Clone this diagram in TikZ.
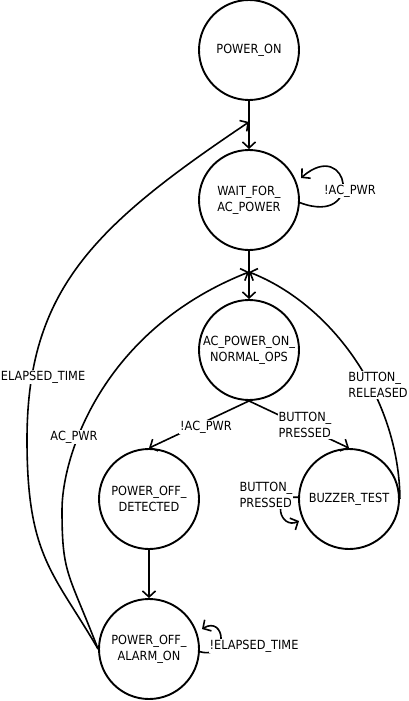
\documentclass[tikz,border=0pt]{standalone}
\usepackage{fontspec}
\setmainfont{DejaVu Sans}[FakeStretch=0.9]
\usetikzlibrary{arrows.meta}
\begin{document}
\begin{tikzpicture}[x=1pt,y=-1pt,
  font=\fontsize{12.6}{16}\selectfont,
  state/.style={circle,draw,line width=1.9pt,minimum size=100pt,inner sep=0pt,align=center},
  edge/.style={line width=1.6pt,-{Straight Barb[length=6pt,width=13pt,line width=1.6pt]}},
  lbl/.style={fill=white,inner sep=1pt,align=left}]
\useasboundingbox (0,0) rectangle (409,701);
% states
\node[state] (pon)   at (249,50)  {POWER\_ON};
\node[state] (wait)  at (249,200) {WAIT\_FOR\_\\AC\_POWER};
\node[state] (ac)    at (249,350) {AC\_POWER\_ON\_\\NORMAL\_OPS};
\node[state] (podet) at (149,499) {POWER\_OFF\_\\DETECTED};
\node[state] (buzz)  at (349,499) {BUZZER\_TEST};
\node[state] (alarm) at (149,649) {POWER\_OFF\_\\ALARM\_ON};
% arrival points on the vertical lines
\coordinate (wt) at (249,122);
\coordinate (at) at (249,272);
\coordinate (wl) at (301,178);
\coordinate (bl) at (299,521);
\coordinate (al) at (202,629);
% straight edges
\draw[edge] (pon) -- (wait);
\draw[edge] (wait) -- (ac);
\draw[edge] (ac.south) -- (podet.north);
\draw[edge] (ac.south) -- (buzz.north);
\draw[edge] (podet) -- (alarm);
% curved edges
\draw[edge] (alarm.180) .. controls (53.6,572.5) and (27,557) .. (27,440)
   .. controls (27,290) and (94,226) .. (wt);
\draw[edge] (alarm.180) .. controls (68.3,571.8) and (62,575) .. (62,510)
   .. controls (62,456) and (102,330) .. (at);
\draw[edge] (buzz.east) .. controls (399,399) and (333,305) .. (at);
% self loops
\draw[edge] (wait.-3) .. controls (365,227) and (349,136) .. (wl);
\draw[edge] (buzz.178) .. controls (270,495) and (280,530) .. (bl);
\draw[edge] (alarm.-3) .. controls (230,660) and (225,615) .. (al);
% labels
\node[lbl] (l1) at (350,191) {!AC\_PWR};
\node[lbl] (l2) at (206,427) {!AC\_PWR};
\node[lbl] (l3) at (305,425) {BUTTON\_\\PRESSED};
\node[lbl] (l4) at (266,495) {BUTTON\_\\PRESSED};
\node[lbl] (l5) at (378,385) {BUTTON\_\\RELEASED};
\node[lbl] (l6) at (43,377) {ELAPSED\_TIME};
\node[lbl] (l7) at (74,437) {AC\_PWR};
\node[lbl] (l8) at (254,646) {!ELAPSED\_TIME};
\end{tikzpicture}
\end{document}
